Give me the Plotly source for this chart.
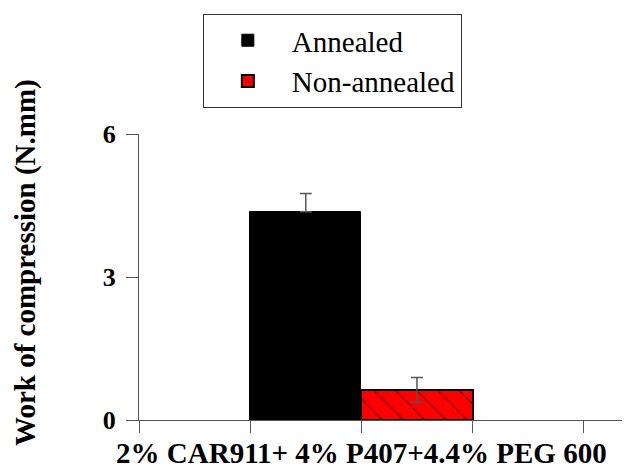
import plotly.graph_objects as go

category = "2% CAR911+ 4% P407+4.4% PEG 600"
series_names = ["Annealed", "Non-annealed"]
annealed_value = [4.37]
annealed_err = [0.38]
non_annealed_value = [0.63]
non_annealed_err = [0.26]
y_ticks = [0, 3, 6]
y_title = "Work of compression (N.mm)"

FONT = "Liberation Serif, Times New Roman, serif"
AX = "#555555"

fig = go.Figure()
fig.add_trace(go.Bar(
    name=series_names[0], x=[0], y=annealed_value,
    marker=dict(color="black", line=dict(color="black", width=1)),
    error_y=dict(type="data", array=annealed_err, arrayminus=[0],
                 color=AX, thickness=1.5, width=6),
))
fig.add_trace(go.Bar(
    name=series_names[1], x=[0], y=non_annealed_value,
    marker=dict(color="#ff0000", line=dict(color="black", width=2),
                pattern=dict(shape="\\", fgcolor="black", bgcolor="#ff0000",
                             size=15, solidity=0.08)),
    error_y=dict(type="data", array=non_annealed_err,
                 color=AX, thickness=1.5, width=6),
))

# page body has an 8px margin; figure is sized so that it ends at 630x470
fig.update_layout(
    width=622, height=462,
    margin=dict(l=131, r=4, t=126, b=50, autoexpand=False),
    barmode="group", bargap=0, bargroupgap=0,
    plot_bgcolor="white", paper_bgcolor="white",
    font=dict(family=FONT, color="black"),
    showlegend=True,
    legend=dict(
        x=0.397, xanchor="center", y=1.42, yanchor="top",
        bordercolor="#333333", borderwidth=1, bgcolor="white",
        font=dict(family=FONT, size=29, color="black"),
        tracegroupgap=0, itemwidth=78,
    ),
    annotations=[dict(
        text=y_title, textangle=-90, xref="paper", yref="paper",
        x=0, y=0.549, xanchor="center", yanchor="middle", xshift=-113,
        showarrow=False,
        font=dict(family=FONT, size=29, weight="bold", color="black"),
    )],
)
fig.update_xaxes(
    range=[-1, 1.19], tickvals=[-1, -0.5, 0, 0.5, 1],
    ticktext=["", "", category, "", ""],
    showline=True, linecolor=AX, linewidth=1.2,
    ticks="outside", ticklen=12, tickcolor=AX, tickwidth=1.2,
    showgrid=False, zeroline=False, automargin=False,
    tickfont=dict(family=FONT, size=29, weight="bold", color="black"),
    ticklabelstandoff=-5,
)
fig.update_yaxes(
    range=[0, 6], tickvals=y_ticks,
    showline=True, linecolor=AX, linewidth=1.2,
    ticks="outside", ticklen=12, tickcolor=AX, tickwidth=1.2,
    showgrid=False, zeroline=False, automargin=False,
    tickfont=dict(family=FONT, size=26, weight="bold", color="black"),
    ticklabelstandoff=5,
)

fig.write_html("out.html")
